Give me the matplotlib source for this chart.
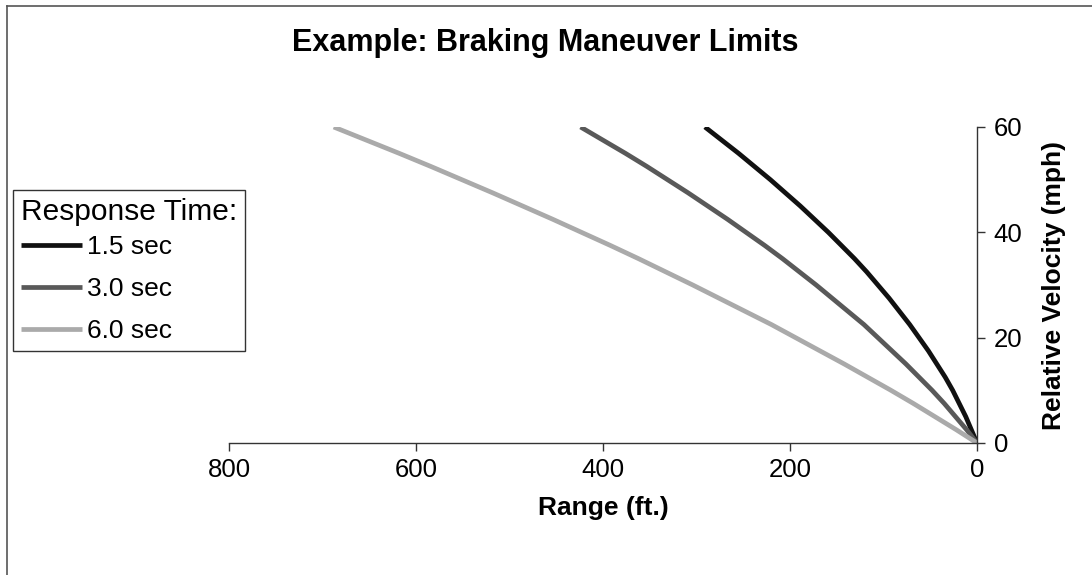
import matplotlib.pyplot as plt
from matplotlib.lines import Line2D

plt.rcParams['font.family'] = ['Liberation Sans', 'DejaVu Sans']

# data
velocity = [0, 2.5, 5, 7.5, 10, 12.5, 15, 17.5, 20, 22.5, 25, 27.5, 30,
            32.5, 35, 37.5, 40, 42.5, 45, 47.5, 50, 52.5, 55, 57.5, 60]   # mph
range_15 = [0, 6, 12, 19, 26, 34, 43, 52, 62, 72, 83, 94, 106,
            118, 131, 145, 159, 174, 189, 205, 221, 238, 255, 273, 291]   # ft, 1.5 sec
range_30 = [0, 11, 23, 35, 48, 62, 76, 91, 106, 121, 138, 155, 172,
            190, 208, 227, 247, 267, 288, 309, 331, 353, 376, 400, 424]   # ft, 3.0 sec
range_60 = [0, 22, 45, 68, 92, 117, 142, 168, 194, 220, 248, 276, 304,
            333, 362, 392, 423, 454, 486, 518, 551, 584, 618, 653, 688]   # ft, 6.0 sec
labels = ['1.5 sec', '3.0 sec', '6.0 sec']
colors = ['#111111', '#595959', '#aaaaaa']

fig = plt.figure(figsize=(10.92, 5.75), dpi=100)
fig.set_facecolor('white')
ax = fig.add_axes([229/1092, 1 - 443/575, (977 - 229)/1092, (443 - 127)/575])

for r, lab, c in zip([range_15, range_30, range_60], labels, colors):
    ax.plot(r, velocity, color=c, lw=3.4, label=lab, solid_capstyle='butt')

ax.set_xlim(800, 0)
ax.set_ylim(0, 60)
ax.set_xticks([800, 600, 400, 200, 0])
ax.set_yticks([0, 20, 40, 60])

for s in ['top', 'left']:
    ax.spines[s].set_visible(False)
for s in ['bottom', 'right']:
    ax.spines[s].set_color('#333333')
    ax.spines[s].set_linewidth(1.0)

ax.yaxis.tick_right()
ax.yaxis.set_label_position('right')
ax.tick_params(axis='both', direction='out', length=6, width=1.0, color='#333333',
               labelsize=18.5, pad=6)
ax.tick_params(axis='x', pad=5)

ax.set_xlabel('Range (ft.)', fontsize=19, fontweight='bold', labelpad=10)
ax.set_ylabel('Relative Velocity (mph)', fontsize=19, fontweight='bold', labelpad=14)

fig.text(545/1092, 1 - 43/575, 'Example: Braking Maneuver Limits', ha='center', va='center',
         fontsize=22, fontweight='bold')

leg = ax.legend(loc='upper left', bbox_to_anchor=(13/1092, 1 - 190/575),
                bbox_transform=fig.transFigure, title='Response Time:',
                fontsize=19, title_fontsize=21.5, frameon=True, fancybox=False,
                handlelength=2.3, handletextpad=0.2, borderpad=0.3,
                labelspacing=0.68, borderaxespad=0, alignment='left')
leg._legend_box.sep = 6.5  # tighter gap under the legend title
leg.get_frame().set_edgecolor('black')
leg.get_frame().set_linewidth(1.0)

# outer chart border (left and top visible)
fig.add_artist(Line2D([7/1092, 7/1092], [0, 1 - 6/575], color='#555555', lw=1.2,
                      transform=fig.transFigure))
fig.add_artist(Line2D([7/1092, 1], [1 - 6/575, 1 - 6/575], color='#555555', lw=1.2,
                      transform=fig.transFigure))

fig.savefig('out.png', dpi=100)
